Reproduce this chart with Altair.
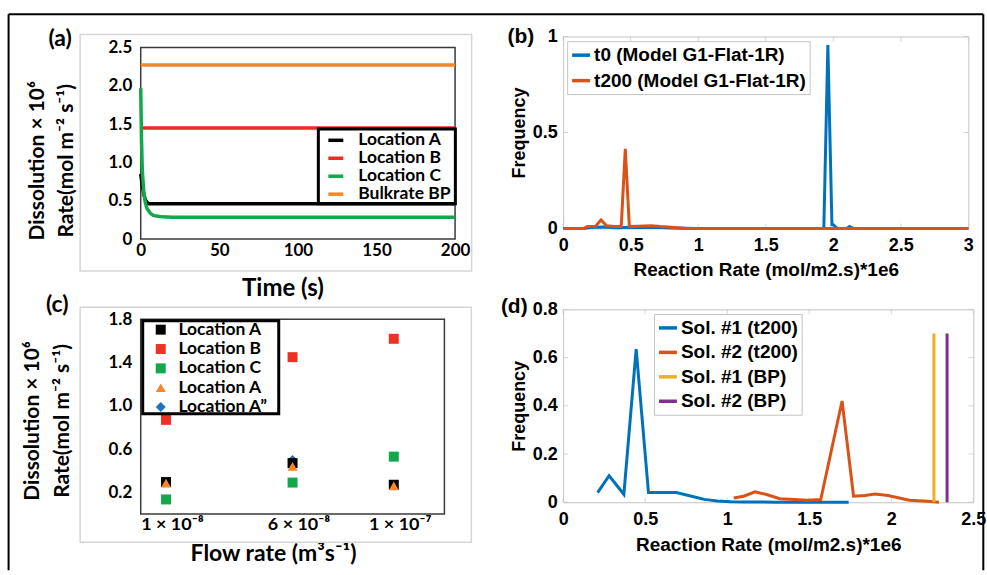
import altair as alt
import pandas as pd

# ---------------- (a) dissolution rate vs time ----------------
a_series = ["Location A", "Location B", "Location C", "Bulkrate  BP"]
a_colors = ["#000000", "#ee2a24", "#12a84b", "#f7862a"]
a_t_A = [0, 1, 2, 3, 4, 5, 200]
a_r_A = [0.85, 0.70, 0.58, 0.51, 0.48, 0.46, 0.46]
a_t_B = [0, 200]
a_r_B = [1.45, 1.45]
a_t_C = [0, 0.5, 1, 2, 3, 4, 6, 8, 10, 14, 20, 200]
a_r_C = [1.97, 1.30, 0.90, 0.60, 0.47, 0.40, 0.34, 0.31, 0.30, 0.29, 0.285, 0.285]
a_t_BP = [0, 200]
a_r_BP = [2.27, 2.27]
a_xticks = [0, 50, 100, 150, 200]
a_yticks = [0, 0.5, 1.0, 1.5, 2.0, 2.5]

# ---------------- (b) frequency vs reaction rate ----------------
b_series = ["t0 (Model G1-Flat-1R)", "t200 (Model G1-Flat-1R)"]
b_colors = ["#0072BD", "#D95319"]
b_x_t0 = [0, 0.15, 0.2, 0.3, 0.4, 0.5, 0.6, 0.7, 0.8, 0.9, 1.0, 1.9, 1.93, 1.96, 1.99, 2.0, 2.03, 2.1, 2.12, 2.15, 3.0]
b_y_t0 = [0, 0, 0.005, 0.008, 0.004, 0.006, 0.005, 0.006, 0.003, 0.001, 0, 0, 0, 0.955, 0.02, 0.02, 0, 0, 0.01, 0, 0]
b_x_t200 = [0, 0.15, 0.18, 0.24, 0.28, 0.32, 0.38, 0.43, 0.46, 0.49, 0.55, 0.65, 0.72, 0.8, 0.9, 1.0, 3.0]
b_y_t200 = [0, 0, 0.01, 0.012, 0.045, 0.015, 0.01, 0.01, 0.415, 0.01, 0.012, 0.015, 0.01, 0.006, 0.002, 0, 0]
b_xticks = [0, 0.5, 1, 1.5, 2, 2.5, 3]
b_yticks = [0, 0.5, 1]

# ---------------- (c) dissolution rate vs flow rate ----------------
c_series = ["Location A", "Location B", "Location C", "Location A\u200b", "Location A\u201d"]
c_colors = ["#000000", "#ee3124", "#12a84b", "#f7862a", "#1f72bf"]
c_shapes = ["square", "square", "square", "triangle-up", "diamond"]
c_flow = [1, 6, 10]            # x 1e-8 m3/s
c_xlabels = ["1 \u00d7 10\u207b\u2078", "6 \u00d7 10\u207b\u2078", "1 \u00d7 10\u207b\u2077"]
c_A = [0.295, 0.47, 0.27]
c_B = [0.87, 1.45, 1.62]
c_C = [0.134, 0.29, 0.53]
c_A_tri = [0.285, 0.44, 0.26]
c_A2_flow = [6]
c_A2 = [0.50]
c_yticks = [0.2, 0.6, 1.0, 1.4, 1.8]

# ---------------- (d) frequency vs reaction rate, two solutions ----------------
d_series = ["Sol. #1 (t200)", "Sol. #2 (t200)", "Sol. #1 (BP)", "Sol. #2 (BP)"]
d_colors = ["#0072BD", "#D95319", "#EDB120", "#7E2F8E"]
d_x_s1 = [0.21, 0.28, 0.37, 0.445, 0.52, 0.6, 0.69, 0.77, 0.86, 0.94, 1.02, 1.1, 1.2, 1.3, 1.4, 1.5, 1.6, 1.74]
d_y_s1 = [0.04, 0.11, 0.033, 0.635, 0.04, 0.04, 0.04, 0.027, 0.012, 0.005, 0.002, 0.001, 0.001, 0, 0, 0, 0, 0]
d_x_s2 = [1.04, 1.10, 1.17, 1.24, 1.32, 1.41, 1.49, 1.57, 1.70, 1.77, 1.84, 1.90, 1.98, 2.11, 2.22, 2.29]
d_y_s2 = [0.018, 0.025, 0.043, 0.032, 0.015, 0.011, 0.008, 0.011, 0.42, 0.025, 0.028, 0.034, 0.028, 0.008, 0.004, 0.0]
d_x_bp1 = [2.26, 2.26]
d_y_bp1 = [0, 0.70]
d_x_bp2 = [2.34, 2.34]
d_y_bp2 = [0, 0.70]
d_xticks = [0, 0.5, 1, 1.5, 2, 2.5]
d_yticks = [0, 0.2, 0.4, 0.6, 0.8]

Y_TITLE = ["Dissolution \u00d7 10\u2076", "Rate(mol m\u207b\u00b2 s\u207b\u00b9)"]
OFFICE = "Lato"
MATLAB = "Liberation Sans"
GRID_GRAY = "#c4c4c4"


def long_df(parts):
    rows = []
    for name, xs, ys in parts:
        for i, (xv, yv) in enumerate(zip(xs, ys)):
            rows.append({"s": name, "x": xv, "y": yv, "i": i})
    return pd.DataFrame(rows)


one = pd.DataFrame({"k": [0]})


def deco_rect(x, x2, y, y2, stroke, sw):
    return alt.Chart(one).mark_rect(fill="transparent", stroke=stroke, strokeWidth=sw).encode(
        x=alt.value(x), x2=alt.value(x2), y=alt.value(y), y2=alt.value(y2))


def panel_label(txt, font, size, x, y):
    return alt.Chart(one).mark_text(text=txt, font=font, fontWeight="bold", fontSize=size,
                                    color="black").encode(x=alt.value(x), y=alt.value(y))


def axis(font, lsize, tsize, **kw):
    return alt.Axis(grid=False, domain=False, ticks=False, labelFont=font, labelFontWeight="bold",
                    labelFontSize=lsize, labelColor="black", titleFont=font, titleFontWeight="bold",
                    titleFontSize=tsize, titleColor="black", labelFlush=False, labelOverlap=False, **kw)


# ================= panel (a) =================
W_A, H_A = 315, 203
sxa = alt.Scale(domain=[0, 200], nice=False, zero=False)
sya = alt.Scale(domain=[0, 2.5 * H_A / 192.0], nice=False, zero=False)
ax_a_x = axis(OFFICE, 17, 24, values=a_xticks, labelPadding=3, title="Time (s)",
              titleX=142, titleY=50, titleBaseline="middle")
ax_a_y = axis(OFFICE, 17, 21, values=a_yticks,
              labelExpr="datum.value == 0 ? '0' : format(datum.value, '.1f')", labelPadding=9,
              title=Y_TITLE, titleAngle=270, titleX=-114, titleY=124, titleAlign="center",
              titleBaseline="top", titleLineHeight=29)
df_a = long_df([(a_series[0], a_t_A, a_r_A), (a_series[1], a_t_B, a_r_B),
                (a_series[2], a_t_C, a_r_C), (a_series[3], a_t_BP, a_r_BP)])
leg_a = alt.Legend(title=None, orient="none", legendX=185, legendY=93.5, symbolType="stroke",
                   symbolSize=225, symbolStrokeWidth=3.5, labelFont=OFFICE, labelFontWeight="bold",
                   labelFontSize=17.5, labelColor="black", labelOffset=13, rowPadding=0, padding=1,
                   labelLimit=300)
lines_a = alt.Chart(df_a).mark_line(strokeWidth=3.5).encode(
    x=alt.X("x:Q", scale=sxa, axis=ax_a_x),
    y=alt.Y("y:Q", scale=sya, axis=ax_a_y),
    color=alt.Color("s:N", scale=alt.Scale(domain=a_series, range=a_colors), legend=leg_a),
    order="i:Q")
frame_a = alt.Chart(one).mark_rect(fill="transparent", stroke="#3a3a3a", strokeWidth=1.5).encode(
    x=alt.datum(0), x2=alt.datum(200), y=alt.datum(0), y2=alt.datum(2.5))
# outer figure frame (left, top, right)
fr_left = alt.Chart(one).mark_rule(color="black", strokeWidth=2).encode(
    x=alt.value(-132.4), y=alt.value(-22.3), y2=alt.value(534.7))
fr_top = alt.Chart(one).mark_rule(color="black", strokeWidth=2).encode(
    x=alt.value(-132.4), x2=alt.value(844.3), y=alt.value(-22.3))
fr_right = alt.Chart(one).mark_rule(color="black", strokeWidth=2).encode(
    x=alt.value(844.3), y=alt.value(-22.3), y2=alt.value(534.7))
chart_a = alt.layer(
    deco_rect(-60.7, 331.6, -2, 235, "#d6d6d6", 1.5),
    frame_a, lines_a,
    deco_rect(178, 315.3, 92.7, 167.7, "black", 3),
    panel_label("(a)", OFFICE, 23, -80.7, 2.7),
    fr_left, fr_top, fr_right,
).properties(width=W_A, height=H_A, view=alt.ViewBackground(stroke="transparent"))

# ================= panel (b) =================
W_B, H_B = 406, 192.4
sxb = alt.Scale(domain=[0, 3], nice=False, zero=False)
syb = alt.Scale(domain=[0, 1], nice=False, zero=False)
ax_b_x = axis(MATLAB, 18, 19, values=b_xticks, format="~g", labelPadding=8,
              title="Reaction Rate (mol/m2.s)*1e6", titleY=41, titleBaseline="middle")
ax_b_y = axis(MATLAB, 18, 18, values=b_yticks, format="~g", labelPadding=6,
              title="Frequency", titleX=-44, titleBaseline="middle")
df_b = long_df([(b_series[0], b_x_t0, b_y_t0), (b_series[1], b_x_t200, b_y_t200)])
leg_b = alt.Legend(title=None, orient="none", legendX=4, legendY=4.7, fillColor="white",
                   strokeColor=GRID_GRAY, padding=3, symbolType="stroke", symbolSize=324,
                   symbolStrokeWidth=3.5, labelFont=MATLAB, labelFontWeight="bold",
                   labelFontSize=19, labelColor="black", labelOffset=2, rowPadding=4.5, labelLimit=400)
col_b = alt.Color("s:N", scale=alt.Scale(domain=b_series, range=b_colors), legend=leg_b)
base_b = alt.Chart(df_b).mark_line(strokeWidth=3).encode(
    x=alt.X("x:Q", scale=sxb, axis=ax_b_x), y=alt.Y("y:Q", scale=syb, axis=ax_b_y),
    color=col_b, order="i:Q")


def ticks_layers(xt, yt, sx, sy, axx, axy, W, H):
    dx = pd.DataFrame({"x": xt})
    dy = pd.DataFrame({"y": yt})
    out = []
    for yy in (2.5, H - 2.5):
        out.append(alt.Chart(dx).mark_tick(orient="vertical", size=5, thickness=1, color=GRID_GRAY)
                   .encode(x=alt.X("x:Q", scale=sx, axis=axx), y=alt.value(yy)))
    for xx in (2.5, W - 2.5):
        out.append(alt.Chart(dy).mark_tick(orient="horizontal", size=5, thickness=1, color=GRID_GRAY)
                   .encode(y=alt.Y("y:Q", scale=sy, axis=axy), x=alt.value(xx)))
    return out


chart_b = alt.layer(
    *ticks_layers(b_xticks, b_yticks, sxb, syb, ax_b_x, ax_b_y, W_B, H_B),
    base_b.transform_filter(alt.datum.s == b_series[0]),
    base_b.transform_filter(alt.datum.s == b_series[1]),
    panel_label("(b)", MATLAB, 21, -42.3, 0.7),
).properties(width=W_B, height=H_B, view=alt.ViewBackground(stroke=GRID_GRAY, strokeWidth=1))

# ================= panel (c) =================
W_C, H_C = 310, 205
sxc = alt.Scale(domain=[0, 12 * W_C / 304.3], nice=False, zero=False)
syc = alt.Scale(domain=[0, 1.8 * H_C / 195.0], nice=False, zero=False)
c_label_expr = " : ".join(
    f"datum.value == {v} ? '{lab}'" for v, lab in zip(c_flow[:-1], c_xlabels[:-1])) + f" : '{c_xlabels[-1]}'"
ax_c_x = axis(OFFICE, 18, 23, values=c_flow, labelExpr=c_label_expr, labelPadding=2, labelOffset=6,
              title="Flow rate (m\u00b3s\u207b\u00b9)", titleX=132.6, titleY=40, titleBaseline="middle")
ax_c_y = axis(OFFICE, 17, 21, values=c_yticks, format=".1f", labelPadding=9,
              title=Y_TITLE, titleAngle=270, titleX=-119, titleY=111.3, titleAlign="center",
              titleBaseline="top", titleLineHeight=30)
rows_c = []
for f, v in zip(c_A2_flow, c_A2):
    rows_c.append({"s": c_series[4], "x": f, "y": v})
for name, vals in ((c_series[0], c_A), (c_series[1], c_B), (c_series[2], c_C), (c_series[3], c_A_tri)):
    for f, v in zip(c_flow, vals):
        rows_c.append({"s": name, "x": f, "y": v})
df_c = pd.DataFrame(rows_c)
leg_c = alt.Legend(title=None, orient="none", legendX=10.3, legendY=10.6, symbolSize=100,
                   labelFont=OFFICE, labelFontWeight="bold", labelFontSize=17.5, labelColor="black",
                   labelOffset=9, rowPadding=0.4, padding=1, labelLimit=300,
                   labelExpr="replace(datum.label, '\u200b', '')")
pts_c = alt.Chart(df_c).mark_point(filled=True, opacity=1, size=100).encode(
    x=alt.X("x:Q", scale=sxc, axis=ax_c_x),
    y=alt.Y("y:Q", scale=syc, axis=ax_c_y),
    color=alt.Color("s:N", scale=alt.Scale(domain=c_series, range=c_colors), legend=leg_c),
    shape=alt.Shape("s:N", scale=alt.Scale(domain=c_series, range=c_shapes), legend=leg_c))
frame_c = alt.Chart(one).mark_rect(fill="transparent", stroke="#3a3a3a", strokeWidth=1.5).encode(
    x=alt.datum(0), x2=alt.datum(12), y=alt.datum(0), y2=alt.datum(1.8))
chart_c = alt.layer(
    deco_rect(-60.7, 331.3, -2, 233.3, "#d6d6d6", 1.5),
    frame_c, pts_c,
    deco_rect(2, 138.3, 11.3, 104.6, "black", 3),
    panel_label("(c)", OFFICE, 23, -83.7, -4.4),
).properties(width=W_C, height=H_C, view=alt.ViewBackground(stroke="transparent"))

# ================= panel (d) =================
W_D, H_D = 411, 193.3
sxd = alt.Scale(domain=[0, 2.5], nice=False, zero=False)
syd = alt.Scale(domain=[0, 0.8], nice=False, zero=False)
ax_d_x = axis(MATLAB, 18, 19, values=d_xticks, format="~g", labelPadding=8,
              title="Reaction Rate (mol/m2.s)*1e6", titleY=42, titleBaseline="middle")
ax_d_y = axis(MATLAB, 18, 18, values=d_yticks, format="~g", labelPadding=6,
              title="Frequency", titleX=-44, titleBaseline="middle")
df_d = long_df([(d_series[0], d_x_s1, d_y_s1), (d_series[1], d_x_s2, d_y_s2),
                (d_series[2], d_x_bp1, d_y_bp1), (d_series[3], d_x_bp2, d_y_bp2)])
leg_d = alt.Legend(title=None, orient="none", legendX=91, legendY=4.6, fillColor="white",
                   strokeColor=GRID_GRAY, padding=3, symbolType="stroke", symbolSize=324,
                   symbolStrokeWidth=3.5, labelFont=MATLAB, labelFontWeight="bold",
                   labelFontSize=19, labelColor="black", labelOffset=2, rowPadding=3.5, labelLimit=400)
col_d = alt.Color("s:N", scale=alt.Scale(domain=d_series, range=d_colors), legend=leg_d)
base_d = alt.Chart(df_d).mark_line(strokeWidth=3).encode(
    x=alt.X("x:Q", scale=sxd, axis=ax_d_x), y=alt.Y("y:Q", scale=syd, axis=ax_d_y),
    color=col_d, order="i:Q")
chart_d = alt.layer(
    *ticks_layers(d_xticks, d_yticks, sxd, syd, ax_d_x, ax_d_y, W_D, H_D),
    *[base_d.transform_filter(alt.datum.s == s) for s in d_series],
    panel_label("(d)", MATLAB, 21, -49, -2.7),
).properties(width=W_D, height=H_D, view=alt.ViewBackground(stroke=GRID_GRAY, strokeWidth=1))

# ================= layout =================
chart = alt.concat(
    chart_a, chart_b, chart_c, chart_d, columns=2, align="none", bounds="flush",
    spacing={"row": 70.4, "column": 108.3},
).resolve_scale(color="independent", shape="independent").resolve_legend(
    color="independent", shape="independent").properties(
    padding={"left": 7, "top": 12, "right": 0, "bottom": 0}, background="white")

chart.save("out.html", embed_options={"renderer": "svg", "actions": False})
